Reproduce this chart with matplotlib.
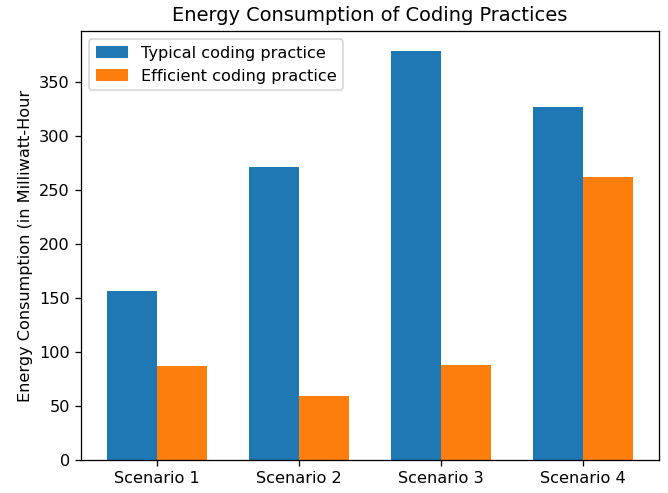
import numpy as np
import matplotlib
matplotlib.use("Agg")
import matplotlib.pyplot as plt

scenarios = ["Scenario 1", "Scenario 2", "Scenario 3", "Scenario 4"]
typical = [156, 271, 378, 327]
efficient = [87, 59, 88, 262]

x = np.arange(len(scenarios))
width = 0.35

# the reference looks like it was rendered a bit bigger, so bump the dpi
fig, ax = plt.subplots(figsize=(668 / 116, 493 / 116), dpi=116)
fig.subplots_adjust(left=0.1213, right=0.9865, bottom=0.0669, top=0.9371)

ax.bar(x - width / 2, typical, width, label="Typical coding practice")
ax.bar(x + width / 2, efficient, width, label="Efficient coding practice")

ax.set_title("Energy Consumption of Coding Practices")
ax.set_ylabel("Energy Consumption (in Milliwatt-Hour")
ax.set_xticks(x)
ax.set_xticklabels(scenarios)
ax.legend(loc="upper left")

fig.savefig("out.png", dpi=116)
